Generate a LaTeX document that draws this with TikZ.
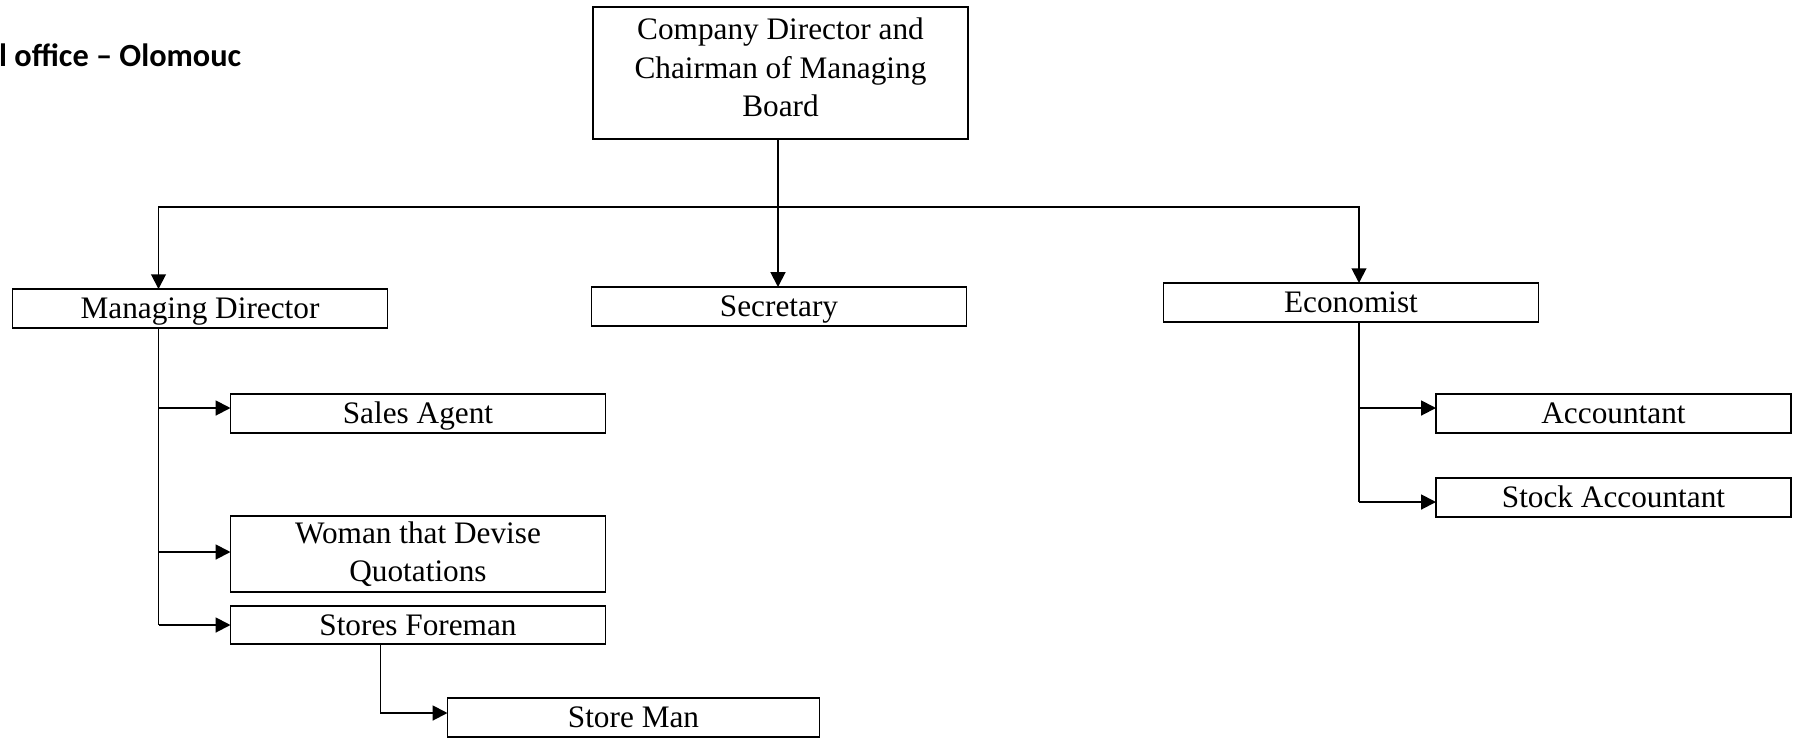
\documentclass[tikz,border=0pt]{standalone}
\usepackage{fontspec}
\setmainfont{Liberation Serif}
\newfontfamily\headfont{Carlito}
\usepackage{tikz}
\usetikzlibrary{positioning,arrows.meta}

\begin{document}
\begin{tikzpicture}[
    box/.style={draw, line width=0.5pt, minimum width=3.75cm, minimum height=0.39cm, inner sep=0pt, outer sep=0pt, align=center, font=\fontsize{8.9pt}{10.9pt}\selectfont},
    onebox/.style={box, text height=5.7pt, text depth=0pt},
    arrow/.style={-{Triangle[length=4.2pt, width=4.2pt]}, line width=0.55pt},
    link/.style={line width=0.35pt}
]
\useasboundingbox (0,0) rectangle (17.94,-7.38);

% Heading
\node[font=\headfont\bfseries\fontsize{9.2pt}{11pt}\selectfont, anchor=base west, inner sep=0pt] (head) at (-0.015,-0.66) {l office – Olomouc};

% Top of the chart
\node[box, minimum height=1.32cm] (chair) at (7.805,-0.73) {Company Director and\\Chairman of Managing\\Board\strut};

% First level
\node[onebox, below=1.48cm of chair, xshift=-0.015cm] (secr) {Secretary};
\node[onebox, left=2.04cm of secr, yshift=-0.02cm] (mdir) {Managing Director};
\node[onebox, right=1.97cm of secr, yshift=0.04cm] (econ) {Economist};

% Under the managing director
\node[onebox, below=0.66cm of mdir, xshift=2.18cm] (sales) {Sales Agent};
\node[box, minimum height=0.76cm, below=0.83cm of sales] (quote) {Woman that Devise\\Quotations};
\node[onebox, minimum height=0.38cm, below=0.14cm of quote] (fore) {Stores Foreman};
\node[onebox, minimum width=3.72cm, below=0.54cm of fore, xshift=2.155cm] (store) {Store Man};

% Under the economist
\node[onebox, minimum width=3.55cm, below=0.72cm of econ, xshift=2.625cm] (acct) {Accountant};
\node[onebox, minimum width=3.55cm, below=0.45cm of acct] (stock) {Stock Accountant};

% Bus from the top box
\coordinate[below=0.68cm of chair.south, xshift=-0.025cm] (bus);
\draw[link] (bus |- chair.south) -- (bus);
\draw[arrow] (bus) -| ([xshift=-0.415cm]mdir.north);
\draw[arrow] (bus) -- (bus |- secr.north);
\draw[arrow] (bus) -| ([xshift=0.08cm]econ.north);

% Managing director branch
\coordinate (mdspine) at ([xshift=-0.415cm]mdir.south);
\coordinate (salesin) at ([yshift=0.055cm]sales.west);
\coordinate (quotein) at ([yshift=0.02cm]quote.west);
\draw[link] (mdspine) -- (mdspine |- fore.west);
\draw[arrow] (mdspine |- salesin) -- (salesin);
\draw[arrow] (mdspine |- quotein) -- (quotein);
\draw[arrow] (mdspine |- fore.west) -- (fore.west);

% Stores foreman to store man
\coordinate (storein) at ([yshift=0.045cm]store.west);
\draw[arrow] ([xshift=-0.375cm]fore.south) |- (storein);

% Economist branch
\coordinate (ecspine) at ([xshift=0.08cm]econ.south);
\coordinate (acctin) at ([yshift=0.055cm]acct.west);
\coordinate (stockin) at ([yshift=-0.045cm]stock.west);
\draw[link] (ecspine) -- (ecspine |- stockin);
\draw[arrow] (ecspine |- acctin) -- (acctin);
\draw[arrow] (ecspine |- stockin) -- (stockin);

\end{tikzpicture}
\end{document}
